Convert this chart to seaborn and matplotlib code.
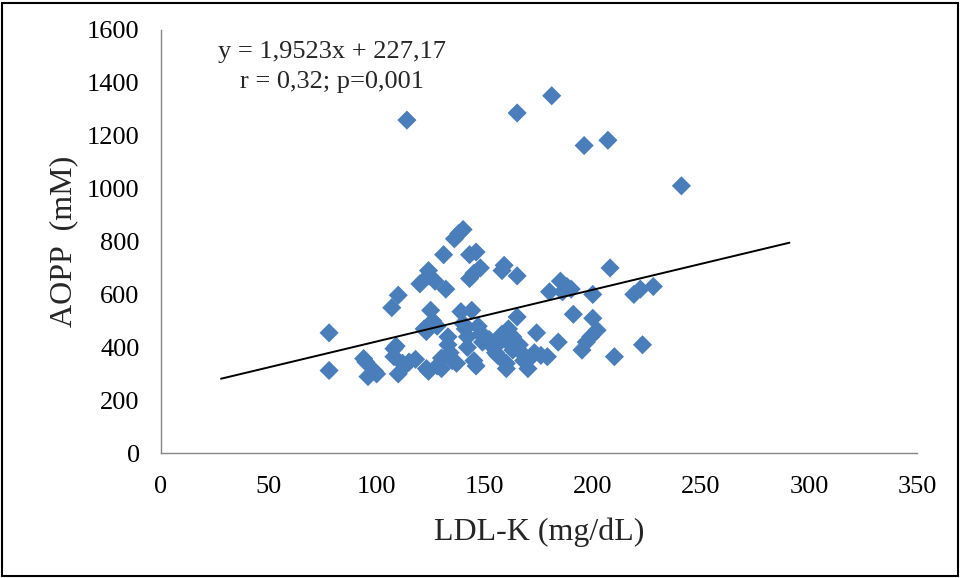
import matplotlib
matplotlib.use("Agg")
import matplotlib.pyplot as plt
import numpy as np
import pandas as pd
import seaborn as sns
from matplotlib.patches import Rectangle

# LDL-K (mg/dL) and AOPP (mM) per subject
ldl = [78, 78, 94, 95, 96, 99, 100,
       107, 110, 108, 109, 108, 110, 112, 113, 115,
       118, 120, 122, 123, 124, 124, 124, 123, 125, 126, 127, 128, 128, 130, 130,
       131, 132, 133, 133, 134, 135, 136, 137, 138, 140, 139, 140, 141, 142, 142,
       143, 143, 144, 145, 145, 146, 146, 147, 148, 148, 149, 150, 152, 154, 155,
       156, 157, 158, 159, 158, 160, 160, 161, 162, 163, 163, 165, 165, 166, 167,
       168, 170, 171, 173, 174, 176, 179, 180, 185, 186, 184, 188, 190, 191, 195,
       197, 199, 200, 200, 202, 208, 210, 219, 222, 223, 228,
       114, 165, 181, 196, 207, 241]
aopp = [455, 313, 358, 345, 290, 310, 300,
        550, 597, 395, 405, 365, 300, 340, 330, 345,
        355, 640, 470, 460, 690, 670, 310, 320, 540, 500, 650, 480, 330, 320, 360,
        750, 620, 440, 410, 380, 350, 810, 340, 830, 845, 535, 490, 470, 440, 400,
        750, 660, 540, 680, 350, 760, 330, 480, 700, 450, 420, 440, 430, 400, 380,
        370, 420, 690, 710, 450, 340, 320, 470, 410, 440, 390, 670, 515, 410, 380,
        350, 320, 360, 380, 455, 370, 365, 610, 650, 610, 420, 630, 620, 525, 390,
        420, 440, 510, 600, 465, 700, 365, 600, 620, 410, 630,
        1258, 1285, 1350, 1162, 1182, 1010]

# Fitted regression line shown on the chart
slope, intercept = 1.9523, 227.17
fit_x = [28, 291]

x_ticks = [0, 50, 100, 150, 200, 250, 300, 350]
y_ticks = [0, 200, 400, 600, 800, 1000, 1200, 1400, 1600]

df = pd.DataFrame({"LDL": ldl, "AOPP": aopp})
fit_df = pd.DataFrame({"x": fit_x, "y": [slope * v + intercept for v in fit_x]})

sns.set_theme(style="white")
plt.rcParams["font.family"] = ["Liberation Serif", "DejaVu Serif"]

W, H = 961, 578
fig = plt.figure(figsize=(W / 100, H / 100), dpi=100)
left, right, top, bottom = 160.5, 917, 29.5, 453.4
ax = fig.add_axes([left / W, 1 - bottom / H, (right - left) / W, (bottom - top) / H])

sns.scatterplot(data=df, x="LDL", y="AOPP", marker="D", s=95,
                color="#4a7ebb", edgecolor="none", linewidth=0, ax=ax, zorder=3)
sns.lineplot(data=fit_df, x="x", y="y", color="black", linewidth=1.4, ax=ax, zorder=4)

ax.set_xlim(0, 350)
ax.set_ylim(0, 1600)
ax.set_xticks(x_ticks)
ax.set_yticks(y_ticks)
ax.tick_params(axis="both", which="major", labelsize=19, direction="out",
               length=5, width=1, color="#868686", labelcolor="black")
ax.tick_params(axis="x", pad=11)
ax.tick_params(axis="y", pad=10)
for side in ("top", "right"):
    ax.spines[side].set_visible(False)
for side in ("left", "bottom"):
    ax.spines[side].set_color("#868686")
    ax.spines[side].set_linewidth(1)

ax.set_xlabel("LDL-K (mg/dL)", fontsize=23, labelpad=14)
ax.set_ylabel("AOPP  (mM)", fontsize=23, labelpad=6)

ax.text(79.3, 1516, "y = 1,9523x + 227,17", fontsize=19, ha="center", va="center")
ax.text(79.3, 1403, "r = 0,32; p=0,001", fontsize=19, ha="center", va="center")

# Outer frame around the whole figure
fig.add_artist(Rectangle((2 / W, 2 / H), (W - 5) / W, (H - 5) / H,
                         transform=fig.transFigure, fill=False,
                         edgecolor="black", linewidth=1.5))

fig.savefig("out.png", dpi=100)
